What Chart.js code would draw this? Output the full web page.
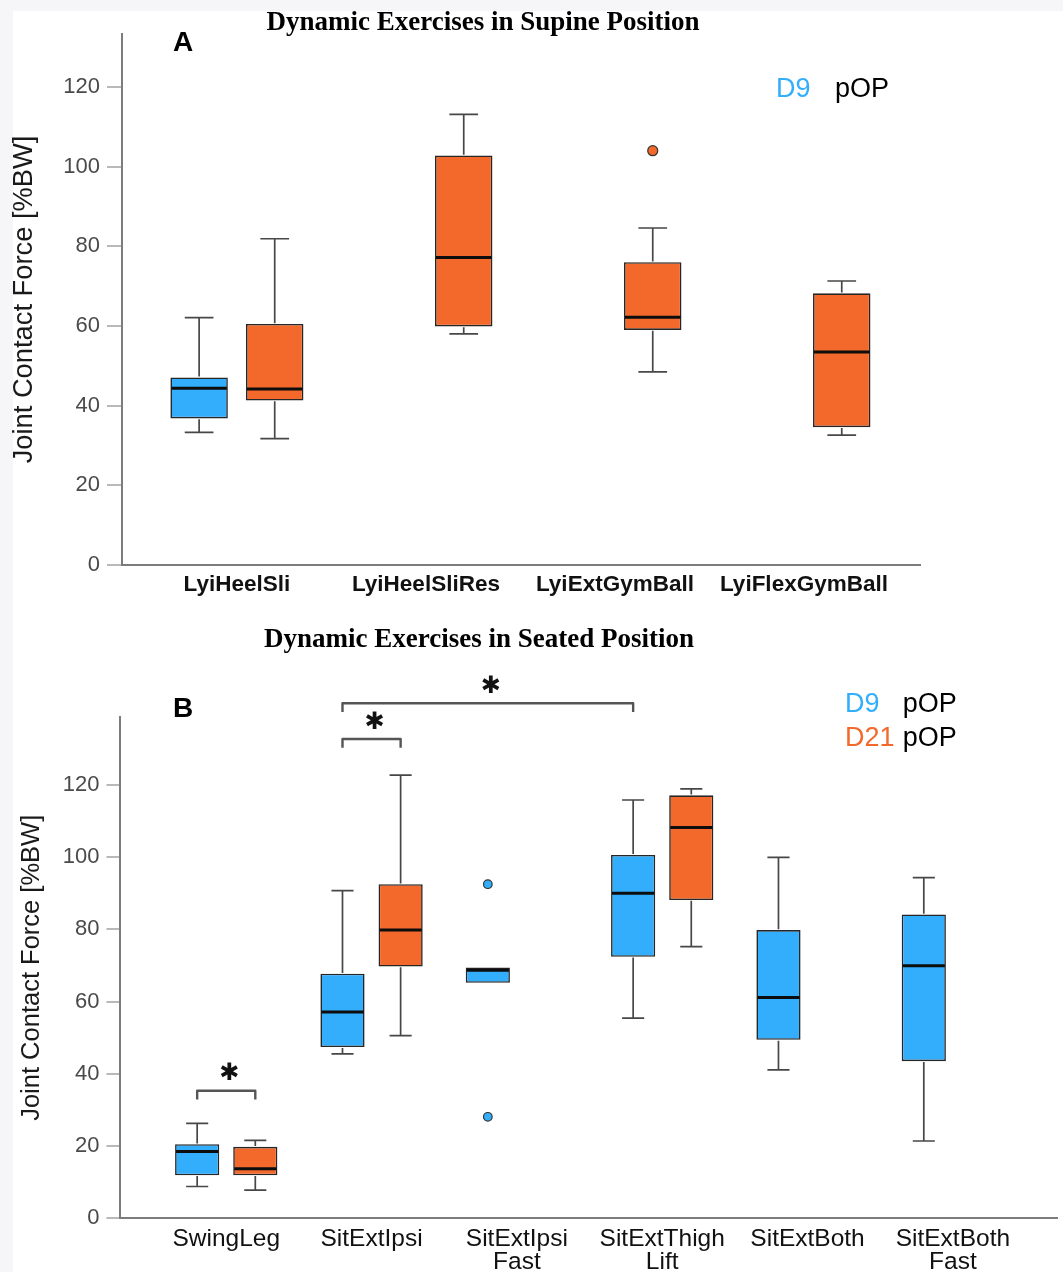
<!DOCTYPE html>
<html><head><meta charset="utf-8">
<script src="https://cdn.jsdelivr.net/npm/chart.js@4.4.1/dist/chart.umd.min.js"></script>
<style>
html,body{margin:0;padding:0;background:#f6f5f7;width:1063px;height:1272px;overflow:hidden;}
#paper{position:absolute;left:13px;top:11px;right:0;bottom:0;background:#fff;}
#ca{position:absolute;left:0;top:0;}
#cb{position:absolute;left:0;top:610px;}
</style></head><body>
<div id="paper"></div>
<canvas id="ca" width="1063" height="610"></canvas>
<canvas id="cb" width="1063" height="662"></canvas>
<script>
// ---------- Panel A : Dynamic Exercises in Supine Position ----------
const catsA = ['LyiHeelSli', 'LyiHeelSliRes', 'LyiExtGymBall', 'LyiFlexGymBall'];
const aD9Min = [33.3, null, null, null];
const aD9Q1  = [36.8, null, null, null];
const aD9Med = [44.4, null, null, null];
const aD9Q3  = [47.1, null, null, null];
const aD9Max = [62.1, null, null, null];
const aD9OutCat = [];
const aD9OutVal = [];
const aD21Min = [31.7, 58.0, 48.5, 32.6];
const aD21Q1  = [41.3, 59.9, 59.0, 34.6];
const aD21Med = [44.2, 77.2, 62.2, 53.5];
const aD21Q3  = [60.5, 102.8, 76.0, 68.2];
const aD21Max = [81.9, 113.1, 84.6, 71.3];
const aD21OutCat = [2];
const aD21OutVal = [104.0];
const yTicksA = [0, 20, 40, 60, 80, 100, 120];

// ---------- Panel B : Dynamic Exercises in Seated Position ----------
const catsB = ['SwingLeg', 'SitExtIpsi', ['SitExtIpsi', 'Fast'], ['SitExtThigh', 'Lift'], 'SitExtBoth', ['SitExtBoth', 'Fast']];
const bD9Min = [8.8, 45.5, 65.2, 55.4, 41.1, 21.4];
const bD9Q1  = [11.9, 47.4, 65.2, 72.4, 49.4, 43.5];
const bD9Med = [18.5, 57.1, 68.7, 90.0, 61.1, 69.9];
const bD9Q3  = [20.5, 67.7, 69.4, 100.6, 79.8, 84.1];
const bD9Max = [26.3, 90.7, 69.4, 115.8, 99.9, 94.3];
const bD9OutCat = [2, 2];
const bD9OutVal = [92.5, 28.1];
const bD21Min = [7.8, 50.6, null, 75.2, null, null];
const bD21Q1  = [11.9, 69.7, null, 88.1, null, null];
const bD21Med = [13.7, 79.8, null, 108.2, null, null];
const bD21Q3  = [19.8, 92.5, null, 117.1, null, null];
const bD21Max = [21.6, 122.7, null, 118.9, null, null];
const bD21OutCat = [];
const bD21OutVal = [];
const yTicksB = [0, 20, 40, 60, 80, 100, 120];
// significance brackets (category index, group index 0=D9 1=D21, bracket level in %BW)
const sigFromCat = [0, 1, 1];
const sigFromGrp = [0, 0, 0];
const sigToCat   = [0, 1, 3];
const sigToGrp   = [1, 1, 0];
const sigLevel   = [35.3, 132.7, 142.6];
const sigLabel   = ['\u2731', '\u2731', '\u2731'];

const BLUE = '#33aefc';
const ORANGE = '#f2692b';
const SANS = '"Liberation Sans", Arial, sans-serif';
const SERIF = '"Liberation Serif", "Times New Roman", serif';
const CAT_PCT = 0.8, BAR_PCT = 0.76;

function groupOffset(g, n) { return (g - (n - 1) / 2) * CAT_PCT / n; }

function buildDatasets(cats, series, outRadius) {
  const ds = [];
  series.forEach((s, g) => {
    ds.push({
      type: 'bar', label: s.label,
      data: cats.map((c, i) => ({x: i, y: s.q1[i] == null ? null : [s.q1[i], s.q3[i]]})),
      backgroundColor: s.color, borderColor: '#262626', borderWidth: 1.6, borderSkipped: false,
      categoryPercentage: CAT_PCT, barPercentage: BAR_PCT, stats: s
    });
  });
  series.forEach((s, g) => {
    ds.push({
      type: 'scatter', label: s.label + ' outliers',
      data: s.outCat.map((c, k) => ({x: c + groupOffset(g, series.length), y: s.outVal[k]})),
      pointRadius: outRadius, backgroundColor: s.color, borderColor: '#333', borderWidth: 1.2
    });
  });
  return ds;
}

const boxPlugin = {
  id: 'boxExtras',
  afterDatasetsDraw(chart) {
    const ctx = chart.ctx, ys = chart.scales.y;
    chart.data.datasets.forEach((ds, di) => {
      if (!ds.stats) return;
      const s = ds.stats;
      const meta = chart.getDatasetMeta(di);
      meta.data.forEach((bar, i) => {
        if (s.q1[i] == null) return;
        const x = bar.x, w = bar.width;
        const pMin = ys.getPixelForValue(s.min[i]), pQ1 = ys.getPixelForValue(s.q1[i]);
        const pQ3 = ys.getPixelForValue(s.q3[i]), pMax = ys.getPixelForValue(s.max[i]);
        const pMed = ys.getPixelForValue(s.med[i]);
        ctx.save();
        ctx.strokeStyle = '#474747'; ctx.lineWidth = 1.7;
        ctx.beginPath();
        if (s.max[i] > s.q3[i]) {
          ctx.moveTo(x, pQ3 - 0.8); ctx.lineTo(x, pMax);
          ctx.moveTo(x - w / 4, pMax); ctx.lineTo(x + w / 4, pMax);
        }
        if (s.min[i] < s.q1[i]) {
          ctx.moveTo(x, pQ1 + 0.8); ctx.lineTo(x, pMin);
          ctx.moveTo(x - w / 4, pMin); ctx.lineTo(x + w / 4, pMin);
        }
        ctx.stroke();
        ctx.strokeStyle = '#0d0d0d'; ctx.lineWidth = 3;
        ctx.beginPath();
        ctx.moveTo(x - w / 2 + 1, pMed); ctx.lineTo(x + w / 2 - 1, pMed);
        ctx.stroke();
        ctx.restore();
      });
    });
  }
};

function bracketPlugin(fromCat, fromGrp, toCat, toGrp, level, labels) {
  return {
    id: 'brackets',
    afterDraw(chart) {
      const ctx = chart.ctx, ys = chart.scales.y;
      ctx.save();
      level.forEach((lv, k) => {
        const x1 = chart.getDatasetMeta(fromGrp[k]).data[fromCat[k]].x;
        const x2 = chart.getDatasetMeta(toGrp[k]).data[toCat[k]].x;
        const yTop = ys.getPixelForValue(lv);
        const yBot = ys.getPixelForValue(lv - 2.4);
        ctx.strokeStyle = '#555'; ctx.lineWidth = 2.4; ctx.lineJoin = 'round';
        ctx.beginPath();
        ctx.moveTo(x1, yBot); ctx.lineTo(x1, yTop); ctx.lineTo(x2, yTop); ctx.lineTo(x2, yBot);
        ctx.stroke();
        ctx.fillStyle = '#111';
        ctx.font = 'bold 24px "DejaVu Sans", sans-serif';
        ctx.textAlign = 'center'; ctx.textBaseline = 'middle';
        ctx.fillText(labels[k], (x1 + x2) / 2 + 3, ys.getPixelForValue(lv + 4.6));
      });
      ctx.restore();
    }
  };
}

function textPlugin(items) {
  return {
    id: 'texts',
    afterDraw(chart) {
      const ctx = chart.ctx;
      ctx.save();
      ctx.textBaseline = 'alphabetic';
      items.forEach(t => {
        ctx.font = t.font; ctx.fillStyle = t.color; ctx.textAlign = t.align || 'left';
        ctx.fillText(t.text, t.x, t.y);
      });
      ctx.restore();
    }
  };
}

function makeChart(canvas, cats, series, yTicks, p, plugins) {
  return new Chart(canvas, {
    type: 'bar',
    data: {datasets: buildDatasets(cats, series, p.outRadius)},
    options: {
      responsive: false, animation: false,
      layout: {padding: {top: p.padTop, right: p.padRight, bottom: 0, left: 0}},
      plugins: {legend: {display: false}, tooltip: {enabled: false}, title: {display: false}},
      scales: {
        x: {
          type: 'linear', min: p.xMin, max: p.xMax, offset: false, bounds: 'data',
          afterBuildTicks: s => { s.ticks = cats.map((c, i) => ({value: i})); },
          afterFit: s => { s.height = p.xH; },
          grid: {display: false, drawTicks: false, offset: false},
          border: {display: true, color: '#7c7c7c', width: 2},
          ticks: {callback: v => cats[v], autoSkip: false, maxRotation: 0, padding: p.xPad,
                  color: '#111', font: {family: SANS, size: p.xFont, weight: p.xWeight, lineHeight: p.xLine}}
        },
        y: {
          min: 0, max: p.yMax, bounds: 'data',
          afterBuildTicks: s => { s.ticks = yTicks.map(v => ({value: v})); },
          afterFit: s => { s.width = p.yW; },
          grid: {drawOnChartArea: false, drawTicks: true, tickLength: p.tickLen, color: '#b9b9b9', lineWidth: 2},
          border: {display: true, color: '#7c7c7c', width: 2},
          ticks: {padding: 7, color: '#4a4a4a', font: {family: SANS, size: 22}},
          title: {display: true, text: 'Joint Contact Force [%BW]', color: '#1a1a1a',
                  font: {family: SANS, size: p.tFont}, padding: {top: p.tPad, bottom: 0}}
        }
      }
    },
    plugins: plugins
  });
}

const seriesA = [
  {label: 'D9', color: BLUE, min: aD9Min, q1: aD9Q1, med: aD9Med, q3: aD9Q3, max: aD9Max, outCat: aD9OutCat, outVal: aD9OutVal},
  {label: 'D21', color: ORANGE, min: aD21Min, q1: aD21Q1, med: aD21Med, q3: aD21Q3, max: aD21Max, outCat: aD21OutCat, outVal: aD21OutVal}
];
const seriesB = [
  {label: 'D9', color: BLUE, min: bD9Min, q1: bD9Q1, med: bD9Med, q3: bD9Q3, max: bD9Max, outCat: bD9OutCat, outVal: bD9OutVal},
  {label: 'D21', color: ORANGE, min: bD21Min, q1: bD21Q1, med: bD21Med, q3: bD21Q3, max: bD21Max, outCat: bD21OutCat, outVal: bD21OutVal}
];

makeChart(document.getElementById('ca'), catsA, seriesA, yTicksA, {
  outRadius: 5, padTop: 34, padRight: 143, xMin: -0.608, xMax: 3.614, xH: 45, xPad: 6,
  xFont: 22.5, xWeight: 'bold', xLine: 1.2, yMax: 133.3, yW: 122, tickLen: 15, tFont: 27.3, tPad: 7.6
}, [boxPlugin, textPlugin([
  {text: 'Dynamic Exercises in Supine Position', x: 483, y: 29.5, font: 'bold 27px ' + SERIF, color: '#000', align: 'center'},
  {text: 'A', x: 173, y: 50.5, font: 'bold 28px ' + SANS, color: '#000'},
  {text: 'D9', x: 776, y: 96.5, font: '27px ' + SANS, color: BLUE},
  {text: 'pOP', x: 835, y: 96.5, font: '27px ' + SANS, color: '#000'}
])]);

makeChart(document.getElementById('cb'), catsB, seriesB, yTicksB, {
  outRadius: 4.3, padTop: 107.3, padRight: 3, xMin: -0.731, xMax: 5.72, xH: 53.7, xPad: 9,
  xFont: 24.5, xWeight: 'normal', xLine: 0.95, yMax: 138.7, yW: 120, tickLen: 13.5, tFont: 25.5, tPad: 16.2
}, [boxPlugin, bracketPlugin(sigFromCat, sigFromGrp, sigToCat, sigToGrp, sigLevel, sigLabel), textPlugin([
  {text: 'Dynamic Exercises in Seated Position', x: 479, y: 36.7, font: 'bold 27px ' + SERIF, color: '#000', align: 'center'},
  {text: 'B', x: 173, y: 106.7, font: 'bold 28px ' + SANS, color: '#000'},
  {text: 'D9', x: 845, y: 102.3, font: '27px ' + SANS, color: BLUE},
  {text: 'pOP', x: 902.7, y: 102.3, font: '27px ' + SANS, color: '#000'},
  {text: 'D21', x: 845, y: 135.7, font: '27px ' + SANS, color: ORANGE},
  {text: 'pOP', x: 902.7, y: 135.7, font: '27px ' + SANS, color: '#000'}
])]);
</script>
</body></html>
